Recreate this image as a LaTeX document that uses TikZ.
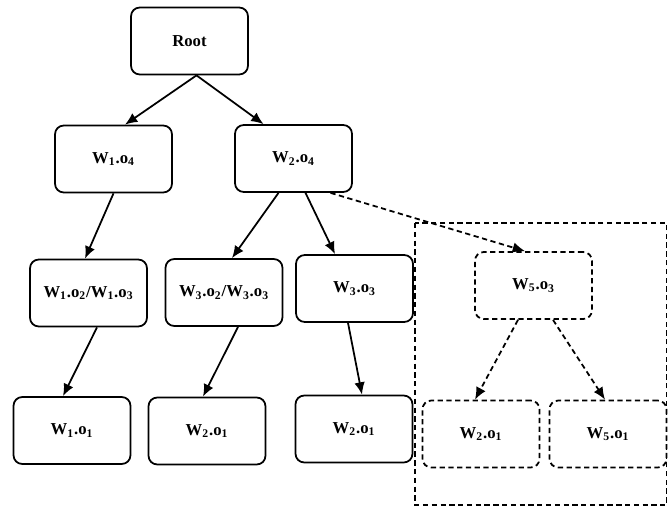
\documentclass[tikz,border=0pt]{standalone}
\usepackage{fontspec}
\setmainfont{Liberation Serif}
\usetikzlibrary{arrows.meta}
\newcommand{\ix}[1]{\textsubscript{#1}}
\begin{document}
\begin{tikzpicture}[
    every node/.style={draw, line width=1pt, rounded corners=5pt,
      minimum width=2.34cm, minimum height=1.34cm,
      font=\fontsize{9.5}{11}\selectfont\bfseries},
    ghost/.style={densely dashed},
    arc/.style={-{Latex[length=7pt,width=6pt]}, line width=1pt}]
  \useasboundingbox (0,0) rectangle (13.36,-10.16);
  \draw
    (3.79,-0.82) node (root){Root}
    (2.27,-3.18) node (w1o4){W\ix{1}.o\ix{4}}
    (5.87,-3.17) node (w2o4){W\ix{2}.o\ix{4}}
    (1.77,-5.86) node (w1o23){W\ix{1}.o\ix{2}/W\ix{1}.o\ix{3}}
    (4.48,-5.85) node (w3o23){W\ix{3}.o\ix{2}/W\ix{3}.o\ix{3}}
    (7.09,-5.77) node (w3o3){W\ix{3}.o\ix{3}}
    (1.44,-8.61) node (w1o1){W\ix{1}.o\ix{1}}
    (4.14,-8.62) node (w2o1){W\ix{2}.o\ix{1}}
    (7.08,-8.58) node (w2o1b){W\ix{2}.o\ix{1}};
  % pruned part
  \draw[ghost]
    (10.67,-5.71) node (w5o3){W\ix{5}.o\ix{3}}
    (9.62,-8.68) node (w2o1c){W\ix{2}.o\ix{1}}
    (12.16,-8.68) node (w5o1){W\ix{5}.o\ix{1}};
  \draw[ghost, line width=1pt] (8.30,-4.46) rectangle (13.33,-10.10);
  \begin{scope}[arc]
    \draw ([xshift=0.14cm]root.south) to ([xshift=0.23cm]w1o4.north);
    \draw ([xshift=0.14cm]root.south) to ([xshift=-0.6cm]w2o4.north);
    \draw (w1o4.south) to ([xshift=-0.07cm]w1o23.north);
    \draw ([xshift=-0.3cm]w2o4.south) to ([xshift=0.16cm]w3o23.north);
    \draw ([xshift=0.24cm]w2o4.south) to ([xshift=-0.39cm]w3o3.north);
    \draw ([xshift=0.17cm]w1o23.south) to ([xshift=-0.18cm]w1o1.north);
    \draw ([xshift=0.28cm]w3o23.south) to ([xshift=-0.08cm]w2o1.north);
    \draw ([xshift=-0.13cm]w3o3.south) to ([xshift=0.16cm]w2o1b.north);
    \draw[ghost] ([xshift=0.74cm]w2o4.south) to ([xshift=-0.17cm]w5o3.north);
    \draw[ghost] ([xshift=-0.31cm]w5o3.south) to ([xshift=-0.12cm]w2o1c.north);
    \draw[ghost] ([xshift=0.39cm]w5o3.south) to ([xshift=-0.06cm]w5o1.north);
  \end{scope}
\end{tikzpicture}
\end{document}
